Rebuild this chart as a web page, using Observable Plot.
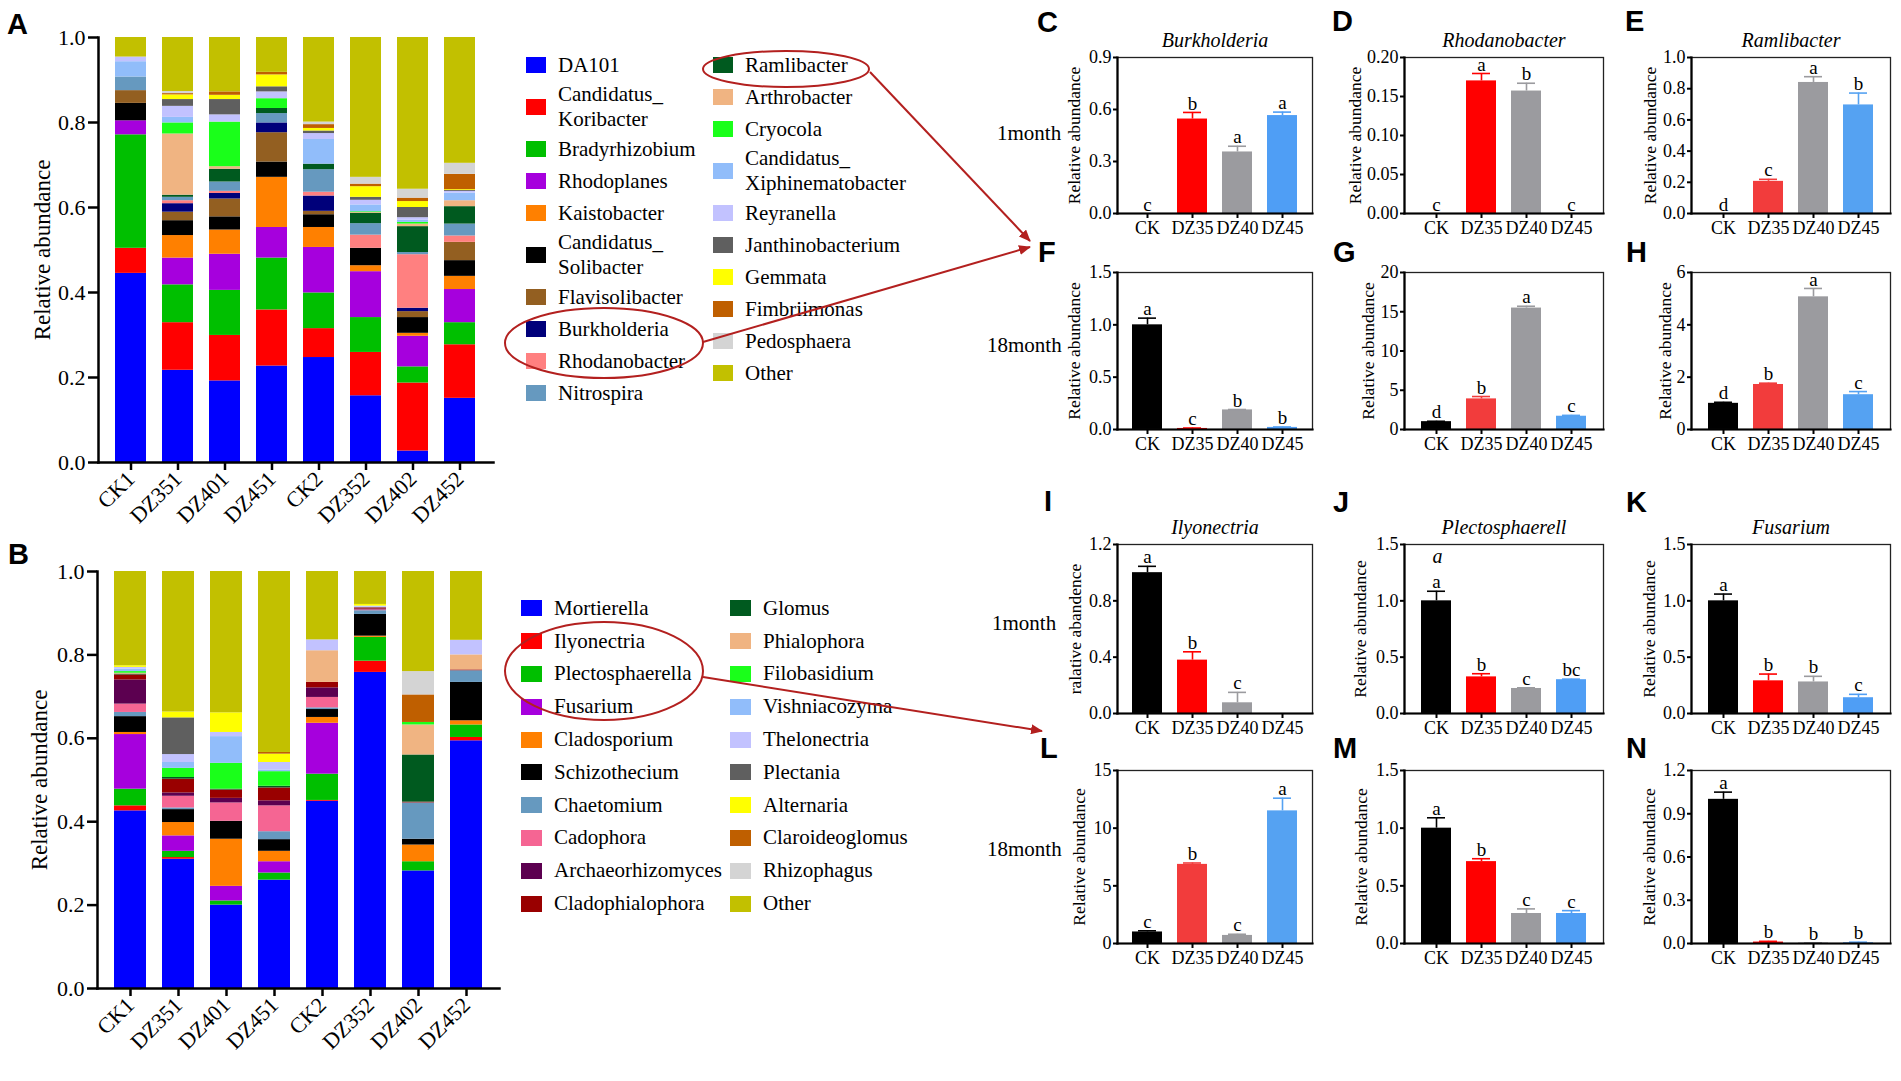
<!DOCTYPE html>
<html><head><meta charset="utf-8">
<script src="https://cdn.jsdelivr.net/npm/d3@7"></script>
<script src="https://cdn.jsdelivr.net/npm/@observablehq/plot@0.6"></script>
<style>
html,body{margin:0;padding:0;background:#fff;overflow:hidden;}
#root{position:relative;width:1901px;height:1081px;font-family:"Liberation Serif","Times New Roman",serif;color:#000;}
#root svg{position:absolute;overflow:visible;}
.leg{position:absolute;display:flex;flex-direction:column;font-size:21px;font-family:"Liberation Serif",serif;}
.leg .row{display:flex;align-items:center;}
.leg .sw{flex:none;}
.leg .tx{line-height:25px;white-space:nowrap;}
</style></head><body><div id="root"></div>
<script>
// ---------------- DATA ----------------
const samples = ["CK1","DZ351","DZ401","DZ451","CK2","DZ352","DZ402","DZ452"];

const bacteriaTaxa = ["DA101","Candidatus_Koribacter","Bradyrhizobium","Rhodoplanes","Kaistobacter","Candidatus_Solibacter","Flavisolibacter","Burkholderia","Rhodanobacter","Nitrospira","Ramlibacter","Arthrobacter","Cryocola","Candidatus_Xiphinematobacter","Reyranella","Janthinobacterium","Gemmata","Fimbriimonas","Pedosphaera","Other"];
const bacteriaColors = ["#0000ff","#ff0000","#00bf00","#a600dd","#ff8000","#000000","#935f21","#00007a","#ff8080","#6699bf","#005a1f","#f0b482","#1aff1a","#91bdfa","#c2c2ff","#5f5f5f","#ffff00","#bf5f00","#d4d4d4","#c2c000"];

const bactCK1   = [.445,.059,.267,.033,0,.041,.030,0,0,.032,0,0,0,.036,.011,0,0,0,0,.046];
const bactDZ351 = [.217,.112,.089,.063,.053,.035,.020,.020,.007,.008,.005,.144,.026,.013,.026,.016,.011,.003,.005,.127];
const bactDZ401 = [.192,.107,.106,.085,.057,.031,.042,.013,.005,.022,.030,.006,.105,0,.017,.036,.010,.008,0,.128];
const bactDZ451 = [.227,.132,.122,.072,.118,.036,.069,.023,0,.022,.012,0,.023,0,.016,.012,.028,.006,0,.082];
const bactCK2   = [.247,.068,.084,.107,.047,.030,.008,.036,.009,.053,.013,0,0,.058,.014,.006,.006,.009,.006,.199];
const bactDZ352 = [.157,.102,.082,.108,.014,.041,0,0,.031,.027,.024,.002,.002,.016,.011,.007,.025,.006,.016,.329];
const bactDZ402 = [.027,.160,.038,.072,.007,.037,.014,.008,.126,.005,.061,.006,.004,.005,.006,.024,.014,.008,.021,.357];
const bactDZ452 = [.151,.126,.052,.078,.031,.037,.043,0,.015,.028,.041,.014,0,.018,.004,.002,.002,.036,.026,.296];

const fungiTaxa = ["Mortierella","Ilyonectria","Plectosphaerella","Fusarium","Cladosporium","Schizothecium","Chaetomium","Cadophora","Archaeorhizomyces","Cladophialophora","Glomus","Phialophora","Filobasidium","Vishniacozyma","Thelonectria","Plectania","Alternaria","Claroideoglomus","Rhizophagus","Other"];
const fungiColors = ["#0000ff","#ff0000","#00bf00","#a600dd","#ff8000","#000000","#6699bf","#f56593","#5c0050","#990000","#005a1f","#f0b482","#1aff1a","#91bdfa","#c2c2ff","#5f5f5f","#ffff00","#bf5f00","#d4d4d4","#c2c000"];

const fungCK1   = [.426,.012,.040,.131,.005,.038,.010,.020,.058,.012,.002,.002,.004,.006,.004,0,.004,0,0,.226];
const fungDZ351 = [.310,.004,.015,.037,.032,.031,.004,.028,.008,.033,.004,0,.022,.014,.019,.088,.014,0,0,.337];
const fungDZ401 = [.200,0,.010,.035,.113,.043,0,.044,.011,.020,.002,0,.062,.064,.010,0,.047,0,0,.339];
const fungDZ451 = [.260,0,.017,.027,.025,.028,.019,.062,.012,.031,.004,0,.035,.004,.018,0,.020,.004,0,.434];
const fungCK2   = [.449,.002,.063,.122,.014,.019,.004,.025,.023,.013,0,.076,0,0,.026,0,0,0,0,.164];
const fungDZ352 = [.758,.027,.057,0,.003,.052,.009,.002,.002,.003,0,0,0,.002,.002,0,.004,0,0,.079];
const fungDZ402 = [.282,0,.022,0,.040,.014,.087,0,0,.002,.113,.072,.006,0,0,0,0,.066,.056,.240];
const fungDZ452 = [.594,.008,.030,0,.010,.092,.028,0,0,.002,0,.036,0,0,.035,0,0,0,0,.165];

const groups = ["CK","DZ35","DZ40","DZ45"];
const colorsVivid = ["#000000","#ff0000","#9b9b9f","#4f9ef5"];
const colorsSoft  = ["#000000","#f23c3c","#9b9b9f","#55a2f2"];

const burkh1Mean = [0,.545,.355,.565],  burkh1Sd = [0,.038,.033,.02],  burkh1Sig = ["c","b","a","a"];
const rhoda1Mean = [0,.170,.157,0],     rhoda1Sd = [0,.0095,.010,0],  rhoda1Sig = ["c","a","b","c"];
const ramli1Mean = [0,.206,.840,.696],  ramli1Sd = [0,.013,.037,.076], ramli1Sig = ["d","c","a","b"];
const burkh18Mean = [1.0,.01,.187,.02], burkh18Sd = [.064,.004,.004,.004], burkh18Sig = ["a","c","b","b"];
const rhoda18Mean = [1.0,3.9,15.47,1.69], rhoda18Sd = [.05,.3,.23,.11], rhoda18Sig = ["d","b","a","c"];
const ramli18Mean = [1.0,1.72,5.07,1.33], ramli18Sd = [.04,.05,.32,.12], ramli18Sig = ["d","b","a","c"];
const ilyon1Mean = [1.0,.379,.076,0],   ilyon1Sd = [.045,.059,.074,0], ilyon1Sig = ["a","b","c",""];
const plect1Mean = [1.0,.325,.222,.30], plect1Sd = [.085,.028,.006,.005], plect1Sig = ["a","b","c","bc"];
const fusar1Mean = [1.0,.29,.28,.14],   fusar1Sd = [.06,.06,.05,.03], fusar1Sig = ["a","b","b","c"];
const ilyon18Mean = [1.0,6.86,.7,11.5], ilyon18Sd = [.1,.12,.1,1.1], ilyon18Sig = ["c","b","c","a"];
const plect18Mean = [1.0,.71,.26,.26],  plect18Sd = [.09,.025,.04,.025], plect18Sig = ["a","b","c","c"];
const fusar18Mean = [1.0,.01,.003,.005], fusar18Sd = [.05,.005,.002,.004], fusar18Sig = ["a","b","b","b"];

const ticksStack = [0,.2,.4,.6,.8,1];
const ticksC = [0,.3,.6,.9], ticksD = [0,.05,.10,.15,.20], ticksE = [0,.2,.4,.6,.8,1];
const ticksF = [0,.5,1,1.5], ticksG = [0,5,10,15,20], ticksH = [0,2,4,6];
const ticksI = [0,.4,.8,1.2], ticksJ = [0,.5,1,1.5], ticksK = [0,.5,1,1.5];
const ticksL = [0,5,10,15], ticksM = [0,.5,1,1.5], ticksN = [0,.3,.6,.9,1.2];

// ---------------- DRAWING ----------------
const root = document.getElementById("root");
const SERIF = "Liberation Serif, Times New Roman, serif";

function place(el, left, top) { el.style.left = left + "px"; el.style.top = top + "px"; root.appendChild(el); }

function stackPanel(taxa, colors, rows, o) {
  const data = samples.flatMap((s, i) => taxa.map((t, j) => ({sample: s, taxon: t, value: rows[i][j]})));
  return Plot.plot({
    width: o.width, height: o.height,
    marginLeft: o.mL, marginRight: o.mR, marginTop: o.mT, marginBottom: o.mB,
    style: {fontFamily: SERIF, fontSize: "22px", background: "transparent", color: "#000"},
    x: {domain: samples, paddingInner: 0.33, paddingOuter: 0.33, label: null},
    y: {domain: [0, 1], label: null},
    color: {domain: taxa, range: colors},
    marks: [
      Plot.barY(data, {x: "sample", y: "value", fill: "taxon", order: taxa}),
      Plot.axisY({ticks: ticksStack, tickFormat: d3.format(".1f"), tickSize: 10, tickPadding: 3, strokeWidth: 2.5, fontSize: 22, label: null}),
      Plot.axisX({tickRotate: -45, tickSize: 8, tickPadding: 5, strokeWidth: 2.5, fontSize: 22, label: null}),
      Plot.frame({anchor: "left", stroke: "#000", strokeWidth: 2.5}),
      Plot.frame({anchor: "bottom", stroke: "#000", strokeWidth: 2.5}),
      Plot.text(["Relative abundance"], {frameAnchor: "left", dx: o.ldx, rotate: -90, textAnchor: "middle", lineAnchor: "middle", fontSize: 23})
    ]
  });
}

const A = stackPanel(bacteriaTaxa, bacteriaColors,
  [bactCK1, bactDZ351, bactDZ401, bactDZ451, bactCK2, bactDZ352, bactDZ402, bactDZ452],
  {width: 500, height: 520, mL: 98, mR: 7, mT: 37, mB: 58, ldx: -56});
place(A, 0, 0);
const B = stackPanel(fungiTaxa, fungiColors,
  [fungCK1, fungDZ351, fungDZ401, fungDZ451, fungCK2, fungDZ352, fungDZ402, fungDZ452],
  {width: 506, height: 518, mL: 97, mR: 7, mT: 31, mB: 70, ldx: -58});
place(B, 0, 540);

// legends
function legend(taxa, colors, cols, top, rowH, twoH, sw) {
  cols.forEach(([start, end, x]) => {
    const box = document.createElement("div");
    box.className = "leg";
    for (let i = start; i < end; i++) {
      const t = taxa[i];
      const parts = t.split("_");
      const two = parts.length > 1;
      const row = document.createElement("div");
      row.className = "row";
      row.style.height = (two ? twoH : rowH) + "px";
      const s = document.createElement("div");
      s.className = "sw";
      s.style.width = sw[0] + "px"; s.style.height = sw[1] + "px"; s.style.background = colors[i];
      s.style.marginRight = sw[2] + "px";
      const tx = document.createElement("div");
      tx.className = "tx";
      tx.innerHTML = two ? parts[0] + "_<br>" + parts[1] : t;
      row.appendChild(s); row.appendChild(tx);
      box.appendChild(row);
    }
    place(box, x, top);
  });
}
legend(bacteriaTaxa, bacteriaColors, [[0, 10, 526], [10, 20, 713]], 49, 32, 52, [20, 16, 12]);
legend(fungiTaxa, fungiColors, [[0, 10, 521], [10, 20, 730]], 592, 32.8, 52, [21, 16, 12]);

// small panels
function smallPanel(p) {
  const [x0, x1, y0, y1] = p.frame;
  const mL = 80, mR = 12, mT = 45, mB = 40;
  const data = groups.map((g, i) => ({g, mean: p.mean[i], top: p.mean[i] + p.sd[i], sd: p.sd[i], sig: p.sig[i], color: p.colors[i]}));
  const withErr = data.filter(d => d.sd > 0);
  const marks = [
    Plot.barY(data, {x: "g", y: "mean", fill: "color"}),
    Plot.ruleX(withErr, {x: "g", y1: "mean", y2: "top", stroke: "color", strokeWidth: 1.6}),
    Plot.tickY(withErr, {x: "g", y: "top", stroke: "color", strokeWidth: 1.6, insetLeft: 6, insetRight: 6}),
    Plot.text(data, {x: "g", y: "top", text: "sig", dy: -9, fontSize: 19, lineAnchor: "middle"}),
    Plot.frame({stroke: "#222", strokeWidth: 1.3}),
    Plot.frame({anchor: "left", stroke: "#000", strokeWidth: 2.2}),
    Plot.frame({anchor: "bottom", stroke: "#000", strokeWidth: 2.2}),
    Plot.axisY({ticks: p.ticks, tickFormat: d3.format(p.fmt), tickSize: 4, tickPadding: 2, strokeWidth: 2, fontSize: 18, label: null}),
    Plot.axisX({tickSize: 5, tickPadding: 3, strokeWidth: 2, fontSize: 18, label: null}),
    Plot.text([p.ylabel || "Relative abundance"], {frameAnchor: "left", dx: p.ldx, rotate: -90, textAnchor: "middle", lineAnchor: "middle", fontSize: 17.5})
  ];
  if (p.title) marks.push(Plot.text([p.title], {frameAnchor: "top", dy: -17, lineAnchor: "middle", fontStyle: "italic", fontSize: 20}));
  if (p.extra) marks.push(Plot.text([p.extra], {frameAnchor: "top-left", dx: 33, dy: 12, lineAnchor: "middle", textAnchor: "middle", fontStyle: "italic", fontSize: 20}));
  const svg = Plot.plot({
    width: x1 - x0 + mL + mR, height: y1 - y0 + mT + mB,
    marginLeft: mL, marginRight: mR, marginTop: mT, marginBottom: mB,
    style: {fontFamily: SERIF, fontSize: "18px", background: "transparent", color: "#000"},
    x: {domain: groups, paddingInner: 0.33, paddingOuter: 0.33, label: null},
    y: {domain: p.domain, label: null},
    marks
  });
  place(svg, x0 - mL, y0 - mT);
}

const colX = [[1117, 1312], [1404, 1603], [1691, 1890]];
const rowY = [[57, 213], [272, 429], [544, 713], [770, 943]];
const F = (c, r) => [colX[c][0], colX[c][1], rowY[r][0], rowY[r][1]];

smallPanel({frame: F(0,0), title: "Burkholderia", mean: burkh1Mean, sd: burkh1Sd, sig: burkh1Sig, colors: colorsVivid, domain: [0,.9], ticks: ticksC, fmt: ".1f", ldx: -43});
smallPanel({frame: F(1,0), title: "Rhodanobacter", mean: rhoda1Mean, sd: rhoda1Sd, sig: rhoda1Sig, colors: colorsVivid, domain: [0,.2], ticks: ticksD, fmt: ".2f", ldx: -49});
smallPanel({frame: F(2,0), title: "Ramlibacter", mean: ramli1Mean, sd: ramli1Sd, sig: ramli1Sig, colors: colorsSoft, domain: [0,1], ticks: ticksE, fmt: ".1f", ldx: -41});
smallPanel({frame: F(0,1), mean: burkh18Mean, sd: burkh18Sd, sig: burkh18Sig, colors: colorsVivid, domain: [0,1.5], ticks: ticksF, fmt: ".1f", ldx: -43});
smallPanel({frame: F(1,1), mean: rhoda18Mean, sd: rhoda18Sd, sig: rhoda18Sig, colors: colorsSoft, domain: [0,20], ticks: ticksG, fmt: "d", ldx: -36});
smallPanel({frame: F(2,1), mean: ramli18Mean, sd: ramli18Sd, sig: ramli18Sig, colors: colorsSoft, domain: [0,6], ticks: ticksH, fmt: "d", ldx: -26});
smallPanel({frame: F(0,2), title: "Ilyonectria", mean: ilyon1Mean, sd: ilyon1Sd, sig: ilyon1Sig, colors: colorsVivid, domain: [0,1.2], ticks: ticksI, fmt: ".1f", ldx: -42, ylabel: "ralative abandence"});
smallPanel({frame: F(1,2), title: "Plectosphaerell", extra: "a", mean: plect1Mean, sd: plect1Sd, sig: plect1Sig, colors: colorsVivid, domain: [0,1.5], ticks: ticksJ, fmt: ".1f", ldx: -44});
smallPanel({frame: F(2,2), title: "Fusarium", mean: fusar1Mean, sd: fusar1Sd, sig: fusar1Sig, colors: colorsVivid, domain: [0,1.5], ticks: ticksK, fmt: ".1f", ldx: -42});
smallPanel({frame: F(0,3), mean: ilyon18Mean, sd: ilyon18Sd, sig: ilyon18Sig, colors: colorsSoft, domain: [0,15], ticks: ticksL, fmt: "d", ldx: -38});
smallPanel({frame: F(1,3), mean: plect18Mean, sd: plect18Sd, sig: plect18Sig, colors: colorsVivid, domain: [0,1.5], ticks: ticksM, fmt: ".1f", ldx: -43});
smallPanel({frame: F(2,3), mean: fusar18Mean, sd: fusar18Sd, sig: fusar18Sig, colors: colorsVivid, domain: [0,1.2], ticks: ticksN, fmt: ".1f", ldx: -42});

// overlay: panel letters, row labels, ellipses and arrows
const NS = "http://www.w3.org/2000/svg";
const ov = document.createElementNS(NS, "svg");
ov.setAttribute("width", 1901); ov.setAttribute("height", 1081);
ov.style.left = "0px"; ov.style.top = "0px"; ov.style.pointerEvents = "none";
root.appendChild(ov);
const RED = "#b3201f";
ov.innerHTML = `
<defs><marker id="ah" viewBox="0 0 12 10" refX="11" refY="5" markerWidth="12" markerHeight="10" markerUnits="userSpaceOnUse" orient="auto">
<path d="M0,0 L12,5 L0,10 z" fill="${RED}"/></marker></defs>
<g fill="none" stroke="${RED}" stroke-width="2">
<ellipse cx="786" cy="69" rx="83" ry="18"/>
<ellipse cx="604" cy="343" rx="99" ry="35"/>
<ellipse cx="604" cy="671" rx="99" ry="49"/>
<line x1="870" y1="72" x2="1030" y2="241" marker-end="url(#ah)"/>
<line x1="703" y1="342" x2="1030" y2="247" marker-end="url(#ah)"/>
<line x1="703" y1="677" x2="1042" y2="731" marker-end="url(#ah)"/>
</g>`;
function T(txt, x, y, opts) {
  const t = document.createElementNS(NS, "text");
  t.textContent = txt; t.setAttribute("x", x); t.setAttribute("y", y);
  for (const k in opts) t.setAttribute(k, opts[k]);
  ov.appendChild(t);
}
const LET = {"font-family": "Liberation Sans, Arial, sans-serif", "font-weight": "bold", "font-size": 29};
[["A",7,34],["B",8,564],["C",1037,32],["D",1332,31],["E",1625,31],["F",1038,262],["G",1333,262],["H",1626,262],
 ["I",1044,511],["J",1333,512],["K",1626,512],["L",1040,758],["M",1333,758],["N",1626,758]].forEach(([s,x,y]) => T(s,x,y,LET));
const ROW = {"font-family": SERIF, "font-size": 21};
T("1month", 997, 140, ROW); T("18month", 987, 352, ROW); T("1month", 992, 630, ROW); T("18month", 987, 856, ROW);
</script></body></html>
